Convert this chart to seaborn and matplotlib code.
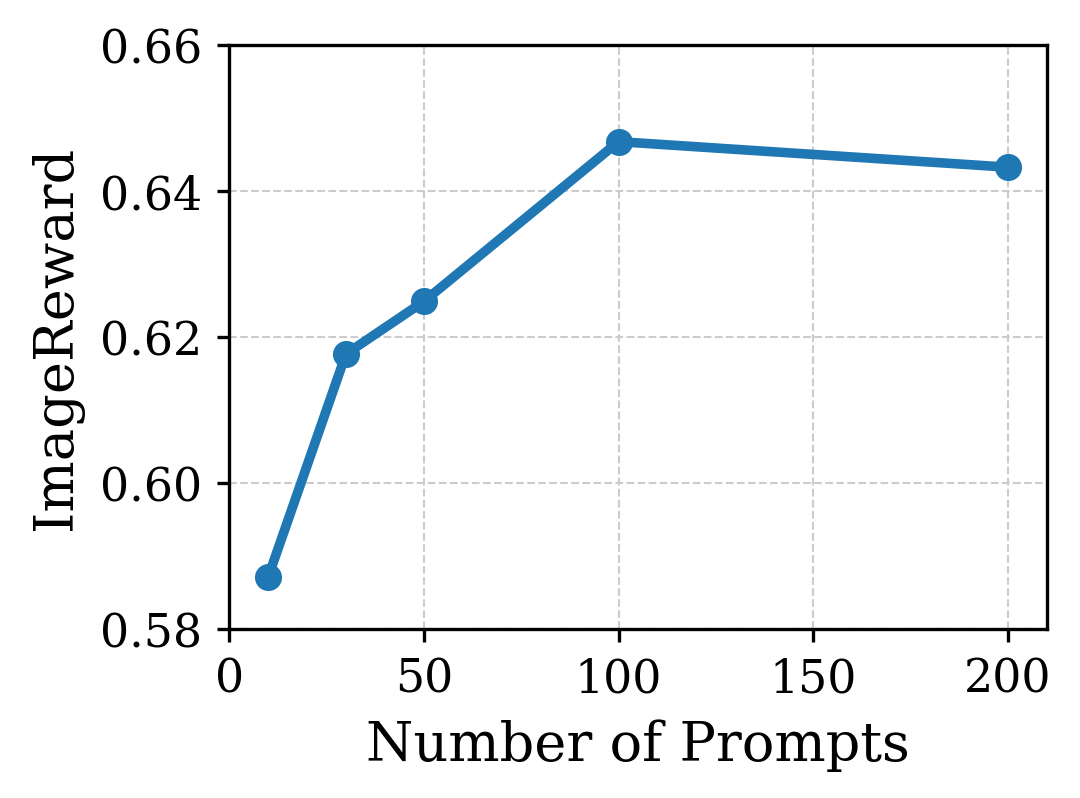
import matplotlib
matplotlib.use("Agg")
import matplotlib.pyplot as plt
import seaborn as sns
import pandas as pd

# data
num_prompts = [10, 30, 50, 100, 200]
image_reward = [0.5871, 0.6177, 0.6249, 0.6468, 0.6433]

df = pd.DataFrame({"prompts": num_prompts, "reward": image_reward})

sns.set_style("ticks", {"axes.edgecolor": "black", "text.color": "black",
                        "axes.labelcolor": "black", "xtick.color": "black",
                        "ytick.color": "black"})
plt.rcParams['font.family'] = ['DejaVu Serif']

fig, ax = plt.subplots(figsize=(3.6033, 2.6633), dpi=300)
fig.subplots_adjust(left=0.212, right=0.9685, top=0.942, bottom=0.2115)

sns.lineplot(data=df, x="prompts", y="reward", ax=ax, color="#1f77b4",
             linewidth=2.3, marker="o", markersize=6.5, markeredgewidth=0)

ax.set_xlim(0, 210)
ax.set_ylim(0.58, 0.66)
ax.set_xticks([0, 50, 100, 150, 200])
ax.set_yticks([0.58, 0.60, 0.62, 0.64, 0.66])
ax.grid(True, linestyle="--", linewidth=0.5, color="#cccccc")
ax.set_axisbelow(True)
ax.tick_params(labelsize=11, length=3, width=0.8, colors="black")
ax.set_xlabel("Number of Prompts", fontsize=13, color="black")
ax.set_ylabel("ImageReward", fontsize=13, color="black")
for s in ax.spines.values():
    s.set_linewidth(0.8)
    s.set_color("black")

fig.savefig("out.png", dpi=300)
